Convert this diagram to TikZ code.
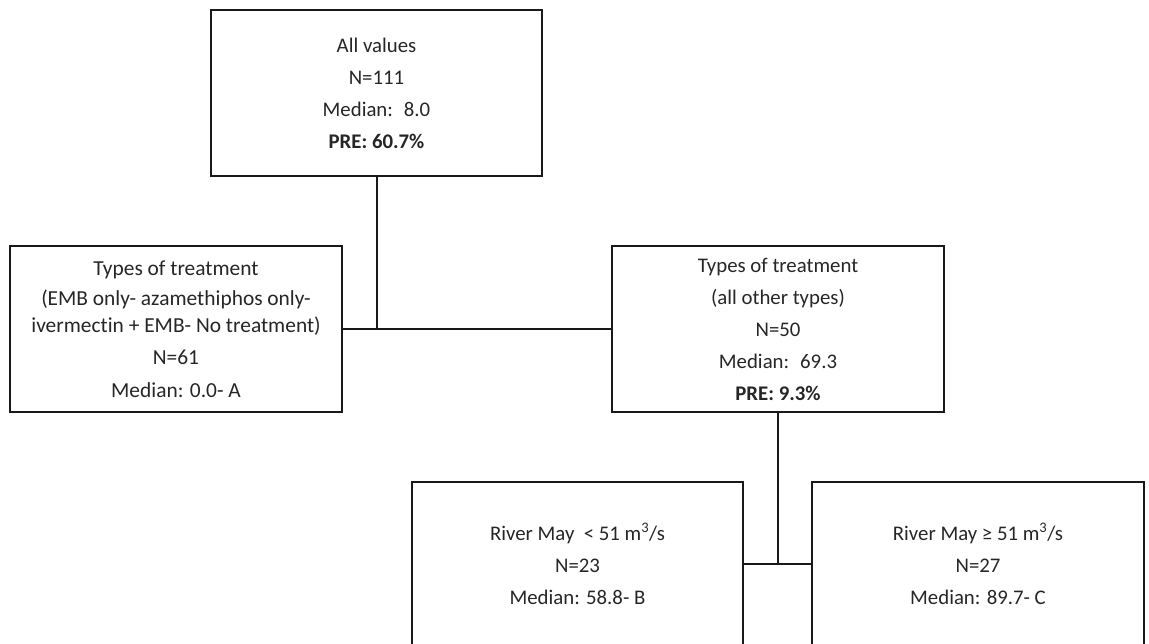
\documentclass[tikz,border=0pt]{standalone}
\usepackage{fontspec}
\setmainfont{Carlito}[Ligatures={NoCommon}]
\begin{document}
\begin{tikzpicture}[x=1pt,y=-1pt,
  box/.style={draw=black!90, line width=2pt, rectangle, inner sep=0pt, align=center,
    text=black!85, font=\fontsize{20.8}{32}\selectfont},
  conn/.style={draw=black!90, line width=2pt}]
\useasboundingbox (0,0) rectangle (1149,644);
\clip (0,0) rectangle (1149,644);
\node[box, minimum width=331pt, minimum height=166pt] (top) at (376.5,93)
  {All values\\N=111\\Median:~ 8.0\\\textbf{PRE: 60.7\%}};
\node[box, minimum width=332pt, minimum height=166pt, font=\fontsize{21.4}{27}\selectfont] (left) at (176,329)
  {Types of treatment\\[3pt](EMB only- azamethiphos only-\\ivermectin + EMB- No treatment)\\[5pt]N=61\\[6pt]Median: 0.0- A};
\node[box, minimum width=332pt, minimum height=166pt] (right) at (778,329)
  {Types of treatment\\(all other types)\\N=50\\Median:~ 69.3\\\textbf{PRE: 9.3\%}};
\node[box, minimum width=331pt, minimum height=164pt] (bl) at (577.5,564)
  {River May~ < 51 m\textsuperscript{3}/s\\N=23\\Median: 58.8- B};
\node[box, minimum width=332pt, minimum height=164pt] (br) at (978,564)
  {River May ≥ 51 m\textsuperscript{3}/s\\N=27\\Median: 89.7- C};
\draw[conn] (top.south) -- (top.south |- left.east);
\draw[conn] (left.east) -- (right.west);
\draw[conn] (right.south) -- (right.south |- bl.east);
\draw[conn] (bl.east) -- (br.west);
\end{tikzpicture}
\end{document}
